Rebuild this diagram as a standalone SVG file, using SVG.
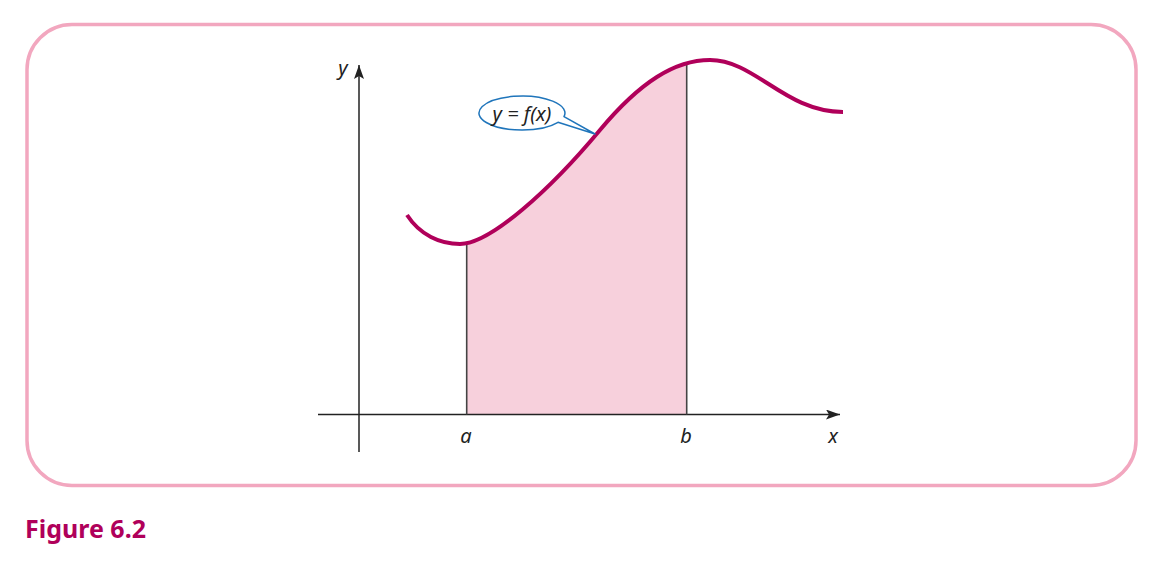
<svg xmlns="http://www.w3.org/2000/svg" width="1149" height="574" viewBox="0 0 1149 574">
<style>
.lbl{font-family:"Noto Sans","Liberation Sans",sans-serif;font-style:italic;font-size:20px;fill:#222;text-anchor:middle}
.axis{stroke:#222;stroke-width:1.5;fill:none}
.bound{stroke:#444;stroke-width:1.6;fill:none}
</style>
<defs>
<marker id="arr" viewBox="0 0 14 10" refX="14" refY="5" markerWidth="14" markerHeight="10" markerUnits="userSpaceOnUse" orient="auto">
<path d="M0,0 L14,5 L0,10 L3,5 Z" fill="#222"/>
</marker>
<clipPath id="ab"><rect x="466.5" y="0" width="220" height="415"/></clipPath>
</defs>
<rect width="1149" height="574" fill="#fff"/>
<rect id="frame" x="27" y="24.5" width="1109" height="461" rx="45" ry="45" fill="none" stroke="#f2a7bf" stroke-width="3.5"/>
<g id="area">
<path clip-path="url(#ab)" d="M407,215 C420,235 440,244 460,244 C490,244 550,190 600,130 C640,82 675,60 710,60 C755,60 785,112 843,112 L843,415 L407,415 Z" fill="#f7d0dc"/>
</g>
<g id="connectors">
<line class="axis" x1="318" y1="414.5" x2="840" y2="414.5" marker-end="url(#arr)"/>
<line class="axis" x1="359" y1="452" x2="359" y2="65" marker-end="url(#arr)"/>
<line class="bound" x1="466.7" y1="244" x2="466.7" y2="414.5"/>
<line class="bound" x1="686.7" y1="63" x2="686.7" y2="414.5"/>
</g>
<g id="curve">
<path d="M407,215 C420,235 440,244 460,244 C490,244 550,190 600,130 C640,82 675,60 710,60 C755,60 785,112 843,112" fill="none" stroke="#b0005a" stroke-width="4"/>
</g>
<g id="callout">
<path d="M564,116.6 L595,134 L558,122.3 A43 17 0 1 1 564,116.6 Z" fill="#fff" stroke="#1f75bb" stroke-width="1.5" stroke-linejoin="round"/>
<text class="lbl" x="522" y="121">y = f(x)</text>
</g>
<g id="labels">
<text class="lbl" x="343" y="75">y</text>
<text class="lbl" x="466" y="443">a</text>
<text class="lbl" x="686" y="443">b</text>
<text class="lbl" x="833" y="443">x</text>
</g>
<text id="caption" x="25" y="538" font-family="'Noto Sans','Liberation Sans',sans-serif" font-weight="bold" font-size="25" fill="#b0005a">Figure 6.2</text>
</svg>
